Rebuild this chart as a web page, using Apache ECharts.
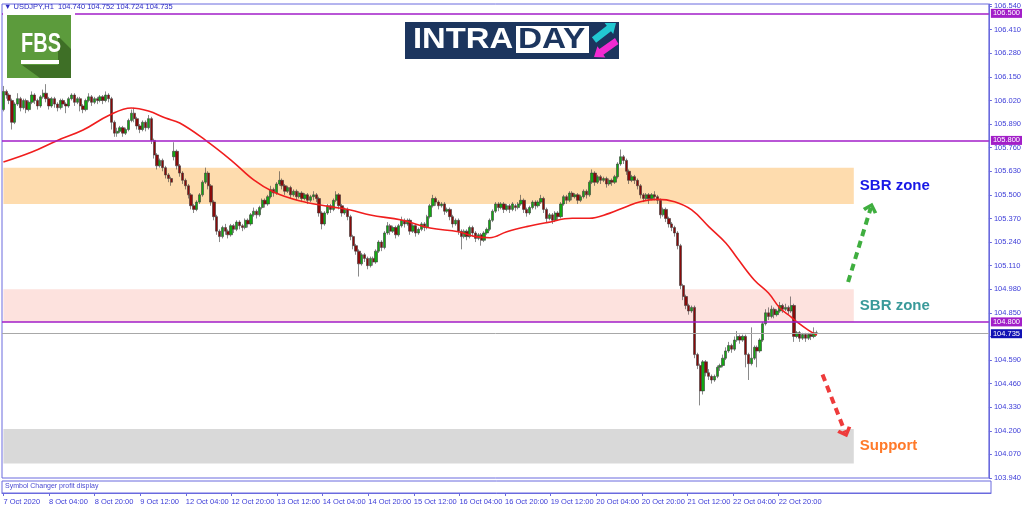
<!DOCTYPE html>
<html>
<head>
<meta charset="utf-8">
<script src="https://cdn.jsdelivr.net/npm/echarts@6/dist/echarts.min.js"></script>
<style>
html,body{margin:0;padding:0;background:#fff;}
#chart{width:1024px;height:511px;}
</style>
</head>
<body>
<div id="chart"></div>
<script>
// ---------------- DATA ----------------
const symbolName = 'USDJPY,H1';
const sessions = [['7 Oct',12,23],['8 Oct',0,23],['9 Oct',0,23],['12 Oct',0,23],['13 Oct',0,23],['14 Oct',0,23],['15 Oct',0,23],['16 Oct',0,23],['19 Oct',0,23],['20 Oct',0,23],['21 Oct',0,23],['22 Oct',0,23],['23 Oct',0,10]];
const xTickLabels = ['7 Oct 2020','8 Oct 04:00','8 Oct 20:00','9 Oct 12:00','12 Oct 04:00','12 Oct 20:00','13 Oct 12:00','14 Oct 04:00','14 Oct 20:00','15 Oct 12:00','16 Oct 04:00','16 Oct 20:00','19 Oct 12:00','20 Oct 04:00','20 Oct 20:00','21 Oct 12:00','22 Oct 04:00','22 Oct 20:00'];
const emptyBarsRight = 60;
const yMin = 103.94, yStep = 0.13, yMax = 106.5516;

// candles: [open, close, low, high]
const candles = [
[105.97,106.07,105.96,106.10],[106.07,106.05,106.03,106.08],[106.05,106.02,106.00,106.06],[106.02,105.90,105.86,106.03],[105.90,106.00,105.89,106.01],
[106.00,106.03,105.99,106.06],[106.03,105.98,105.96,106.04],[105.98,106.02,105.97,106.03],[106.02,105.97,105.95,106.03],[105.97,106.01,105.96,106.02],
[106.01,106.05,106.00,106.07],[106.05,106.02,106.00,106.06],[106.02,105.99,105.97,106.03],[105.99,106.04,105.98,106.05],[106.04,106.06,106.03,106.08],
[106.06,106.03,106.01,106.11],[106.03,105.99,105.97,106.04],[105.99,106.03,105.98,106.04],[106.03,106.00,105.98,106.04],[106.00,105.98,105.96,106.01],
[105.98,106.02,105.97,106.03],[106.02,106.00,105.98,106.03],[106.00,105.99,105.95,106.01],[105.99,106.03,105.98,106.04],[106.03,106.05,106.02,106.06],
[106.05,106.01,105.99,106.06],[106.01,106.03,106.00,106.04],[106.03,105.99,105.96,106.04],[105.99,105.97,105.95,106.00],[105.97,106.02,105.96,106.03],
[106.02,106.04,106.01,106.06],[106.04,106.01,105.99,106.05],[106.01,106.03,106.00,106.04],[106.03,106.02,106.00,106.04],[106.02,106.04,106.01,106.05],
[106.04,106.02,106.00,106.05],[106.02,106.05,106.01,106.07],[106.05,106.03,106.01,106.06],[106.03,105.90,105.86,106.04],[105.90,105.84,105.82,105.91],
[105.84,105.85,105.82,105.87],[105.85,105.87,105.84,105.88],[105.87,105.84,105.82,105.88],[105.84,105.86,105.83,105.87],[105.86,105.91,105.85,105.92],
[105.91,105.95,105.90,105.97],[105.95,105.92,105.90,105.98],[105.92,105.88,105.86,105.93],[105.88,105.86,105.84,105.89],[105.86,105.90,105.85,105.91],
[105.90,105.87,105.85,105.91],[105.87,105.92,105.86,105.94],[105.92,105.80,105.78,105.93],[105.80,105.72,105.70,105.81],[105.72,105.66,105.64,105.73],
[105.66,105.69,105.65,105.70],[105.69,105.65,105.63,105.70],[105.65,105.61,105.59,105.66],[105.61,105.59,105.57,105.62],[105.59,105.57,105.55,105.60],
[105.71,105.74,105.69,105.79],[105.74,105.66,105.64,105.75],[105.66,105.62,105.60,105.67],[105.62,105.58,105.56,105.63],[105.58,105.55,105.53,105.59],
[105.55,105.50,105.48,105.56],[105.50,105.44,105.42,105.51],[105.44,105.42,105.40,105.45],[105.42,105.46,105.41,105.47],[105.46,105.50,105.45,105.51],
[105.50,105.57,105.49,105.58],[105.57,105.62,105.56,105.65],[105.62,105.55,105.53,105.63],[105.55,105.46,105.44,105.56],[105.46,105.38,105.36,105.47],
[105.38,105.30,105.28,105.39],[105.30,105.27,105.24,105.31],[105.27,105.32,105.26,105.33],[105.32,105.30,105.28,105.34],[105.30,105.28,105.26,105.31],
[105.28,105.33,105.27,105.34],[105.33,105.31,105.29,105.34],[105.31,105.35,105.30,105.36],[105.35,105.33,105.31,105.36],[105.33,105.32,105.30,105.34],
[105.32,105.36,105.31,105.37],[105.36,105.34,105.32,105.37],[105.34,105.39,105.33,105.40],[105.39,105.41,105.38,105.43],[105.41,105.39,105.37,105.42],
[105.39,105.43,105.38,105.44],[105.43,105.47,105.42,105.48],[105.47,105.45,105.43,105.48],[105.45,105.49,105.44,105.50],[105.49,105.53,105.48,105.55],
[105.53,105.51,105.49,105.54],[105.51,105.56,105.50,105.57],[105.56,105.58,105.55,105.63],[105.58,105.55,105.53,105.59],[105.55,105.52,105.50,105.56],
[105.52,105.54,105.51,105.55],[105.54,105.50,105.48,105.55],[105.50,105.52,105.49,105.53],[105.52,105.49,105.47,105.53],[105.49,105.51,105.48,105.52],
[105.51,105.48,105.46,105.52],[105.48,105.50,105.47,105.51],[105.50,105.47,105.45,105.51],[105.47,105.49,105.46,105.50],[105.49,105.50,105.47,105.52],
[105.50,105.48,105.46,105.51],[105.48,105.40,105.38,105.49],[105.40,105.34,105.31,105.41],[105.34,105.40,105.33,105.41],[105.40,105.44,105.39,105.45],
[105.44,105.42,105.40,105.45],[105.42,105.47,105.41,105.48],[105.47,105.50,105.46,105.52],[105.50,105.44,105.42,105.51],[105.44,105.40,105.38,105.45],
[105.40,105.42,105.39,105.43],[105.42,105.38,105.36,105.43],[105.38,105.27,105.25,105.39],[105.27,105.22,105.20,105.28],[105.22,105.19,105.17,105.23],
[105.19,105.12,105.05,105.20],[105.12,105.17,105.11,105.18],[105.17,105.15,105.13,105.18],[105.15,105.11,105.09,105.16],[105.11,105.15,105.10,105.16],
[105.15,105.13,105.11,105.16],[105.13,105.19,105.12,105.20],[105.19,105.24,105.18,105.25],[105.24,105.21,105.19,105.25],[105.21,105.29,105.20,105.30],
[105.29,105.33,105.28,105.35],[105.33,105.30,105.28,105.34],[105.30,105.32,105.29,105.33],[105.32,105.28,105.26,105.33],[105.28,105.33,105.27,105.34],
[105.33,105.36,105.32,105.38],[105.36,105.34,105.32,105.37],[105.34,105.36,105.33,105.37],[105.36,105.30,105.28,105.37],[105.30,105.33,105.29,105.34],
[105.33,105.29,105.27,105.34],[105.29,105.31,105.28,105.32],[105.31,105.34,105.30,105.35],[105.34,105.32,105.30,105.35],[105.32,105.38,105.31,105.39],
[105.38,105.44,105.37,105.45],[105.44,105.48,105.43,105.50],[105.48,105.46,105.44,105.49],[105.46,105.44,105.42,105.47],[105.44,105.45,105.43,105.46],
[105.45,105.41,105.39,105.46],[105.41,105.42,105.40,105.43],[105.42,105.38,105.36,105.43],[105.38,105.34,105.32,105.39],[105.34,105.36,105.33,105.37],
[105.36,105.30,105.28,105.37],[105.30,105.27,105.20,105.31],[105.27,105.30,105.26,105.31],[105.30,105.27,105.25,105.31],[105.27,105.32,105.26,105.33],
[105.32,105.29,105.27,105.33],[105.29,105.26,105.24,105.30],[105.26,105.28,105.25,105.29],[105.28,105.25,105.22,105.29],[105.25,105.29,105.24,105.30],
[105.29,105.31,105.28,105.32],[105.31,105.36,105.30,105.37],[105.36,105.41,105.35,105.42],[105.41,105.45,105.40,105.46],[105.45,105.43,105.41,105.46],
[105.43,105.45,105.42,105.46],[105.45,105.42,105.40,105.46],[105.42,105.44,105.41,105.45],[105.44,105.42,105.40,105.45],[105.42,105.45,105.41,105.46],
[105.44,105.43,105.41,105.45],[105.43,105.45,105.42,105.46],[105.45,105.47,105.44,105.50],[105.47,105.42,105.40,105.48],[105.42,105.40,105.38,105.43],
[105.40,105.43,105.39,105.44],[105.43,105.46,105.42,105.47],[105.46,105.44,105.42,105.47],[105.44,105.46,105.43,105.47],[105.46,105.48,105.45,105.50],
[105.48,105.42,105.40,105.49],[105.42,105.37,105.35,105.43],[105.37,105.39,105.36,105.40],[105.39,105.36,105.34,105.40],[105.36,105.40,105.35,105.41],
[105.40,105.38,105.36,105.41],[105.38,105.45,105.37,105.46],[105.45,105.49,105.44,105.50],[105.49,105.47,105.45,105.50],[105.47,105.51,105.46,105.52],
[105.51,105.49,105.47,105.52],[105.49,105.50,105.48,105.51],[105.50,105.47,105.45,105.51],[105.47,105.49,105.46,105.50],[105.49,105.52,105.48,105.53],
[105.52,105.50,105.48,105.53],[105.50,105.57,105.49,105.58],[105.57,105.62,105.56,105.64],[105.62,105.57,105.55,105.63],[105.57,105.60,105.56,105.61],
[105.60,105.58,105.56,105.61],[105.58,105.59,105.57,105.60],[105.59,105.56,105.54,105.60],[105.56,105.58,105.55,105.59],[105.58,105.57,105.55,105.59],
[105.57,105.60,105.56,105.61],[105.60,105.67,105.59,105.68],[105.67,105.71,105.66,105.75],[105.71,105.69,105.67,105.72],[105.69,105.63,105.61,105.70],
[105.63,105.58,105.56,105.64],[105.58,105.60,105.57,105.61],[105.60,105.58,105.56,105.61],[105.58,105.55,105.53,105.59],[105.55,105.50,105.48,105.56],
[105.50,105.48,105.46,105.51],[105.48,105.50,105.47,105.51],[105.50,105.48,105.45,105.51],[105.48,105.50,105.47,105.51],[105.50,105.49,105.47,105.52],
[105.49,105.47,105.45,105.50],[105.47,105.39,105.37,105.48],[105.39,105.42,105.38,105.43],[105.42,105.37,105.35,105.43],[105.37,105.34,105.32,105.38],
[105.34,105.32,105.30,105.35],[105.32,105.29,105.27,105.33],[105.29,105.22,105.20,105.30],[105.22,105.00,104.98,105.23],[105.00,104.94,104.92,105.01],
[104.94,104.89,104.87,104.95],[104.89,104.86,104.84,104.90],[104.86,104.88,104.85,104.89],[104.88,104.62,104.60,104.89],[104.62,104.56,104.54,104.63],
[104.56,104.42,104.34,104.57],[104.42,104.58,104.40,104.59],[104.58,104.52,104.50,104.59],[104.52,104.50,104.48,104.54],[104.50,104.48,104.46,104.51],
[104.48,104.50,104.47,104.51],[104.50,104.55,104.49,104.56],[104.55,104.56,104.53,104.57],[104.56,104.60,104.55,104.62],[104.60,104.64,104.59,104.66],
[104.64,104.67,104.63,104.69],[104.67,104.65,104.63,104.68],[104.65,104.70,104.64,104.72],[104.70,104.72,104.69,104.75],[104.72,104.70,104.68,104.73],
[104.70,104.72,104.69,104.73],[104.72,104.62,104.55,104.73],[104.62,104.57,104.48,104.63],[104.57,104.60,104.56,104.77],[104.60,104.66,104.59,104.67],
[104.66,104.64,104.55,104.67],[104.64,104.70,104.63,104.71],[104.70,104.79,104.69,104.80],[104.79,104.85,104.78,104.87],[104.85,104.83,104.81,104.88],
[104.83,104.87,104.82,104.89],[104.87,104.84,104.82,104.88],[104.84,104.86,104.83,104.87],[104.86,104.89,104.85,104.91],[104.89,104.87,104.85,104.90],
[104.87,104.88,104.86,104.90],[104.88,104.86,104.84,104.89],[104.86,104.89,104.85,104.94],[104.89,104.72,104.69,104.90],[104.72,104.74,104.71,104.75],
[104.74,104.71,104.69,104.75],[104.71,104.73,104.70,104.74],[104.73,104.71,104.69,104.74],[104.71,104.73,104.70,104.74],[104.73,104.72,104.70,104.74],
[104.72,104.74,104.71,104.77],[104.740,104.735,104.724,104.752]
];

// moving average line: [bar index, price]
const maPoints = [[0,105.681],[10,105.736],[19,105.80],[28,105.857],[37,105.937],[45,105.979],[51,105.962],[57,105.923],[62,105.896],[71,105.802],[80,105.692],[88,105.582],[95,105.516],[104,105.468],[115,105.435],[122,105.417],[129,105.389],[140,105.361],[150,105.317],[160,105.297],[166,105.27],[171,105.264],[177,105.297],[184,105.325],[191,105.347],[200,105.371],[206,105.371],[213,105.398],[219,105.435],[224,105.462],[230,105.475],[236,105.462],[242,105.417],[248,105.325],[254,105.235],[258,105.152],[264,105.031],[269,104.959],[273,104.877],[277,104.827],[279,104.80],[283,104.755],[286,104.728]];

// horizontal levels
const purpleLevels = [106.5, 105.8, 104.8];
const currentPrice = 104.735;
// zones: [top, bottom, label]
const zoneOrange = [105.65, 105.45, 'SBR zone'];
const zonePink = [104.98, 104.80, 'SBR zone'];
const zoneGrey = [104.21, 104.02, 'Support'];
const zoneEndBar = 299;
// projection arrows: [[bar, price], [bar, price]]
const arrowUp = [[297, 105.02], [305, 105.43]];
const arrowDown = [[288, 104.51], [296, 104.19]];

// ---------------- BUILD ----------------
const categories = [];
sessions.forEach(s => { for (let h = s[1]; h <= s[2]; h++) categories.push(s[0] + ' ' + String(h).padStart(2,'0') + ':00'); });
const nBars = categories.length;
for (let i = 0; i < emptyBarsRight; i++) categories.push('pad' + i);

const FONT = 'Liberation Sans, Arial, sans-serif';
const AXIS_BLUE = '#6a6ade';
const TEXT_BLUE = '#3c3cd8';
const PURPLE = '#a21ec8';

const tickShow = idx => idx % 16 === 0 && idx < nBars;
const last = candles[candles.length - 1];
const header = '\u25BC ' + symbolName + '  ' + [last[0], last[3], last[2], last[1]].map(v => v.toFixed(3)).join(' ');

function levelLine(v, lineColor, bg, width) {
  return {
    yAxis: v,
    lineStyle: { color: lineColor, width: width, type: 'solid' },
    label: {
      show: true, position: 'end', distance: 2,
      formatter: p => Number(p.value).toFixed(3),
      color: '#fff', fontSize: 7.5, fontFamily: FONT,
      backgroundColor: bg, padding: [1, 2, 0, 2]
    }
  };
}
function zone(z, fill, textColor) {
  return [
    { xAxis: 0, yAxis: z[0], name: z[2], itemStyle: { color: fill },
      label: { show: true, position: 'right', distance: 6, formatter: '{b}', color: textColor,
               fontSize: 15, fontWeight: 'bold', fontFamily: FONT } },
    { xAxis: zoneEndBar, yAxis: z[1] }
  ];
}
const chevron = 'path://M0,9 L9,0 L18,9 L14.5,11.5 L9,5.5 L3.5,11.5 Z';

const option = {
  animation: false,
  backgroundColor: '#ffffff',
  title: [
    { text: header, left: 4, top: 3, padding: 0,
      textStyle: { fontSize: 7.5, color: '#2d2dc4', fontWeight: 'normal', fontFamily: FONT } },
    { text: 'Symbol Changer profit display', left: 5, top: 483, padding: 0,
      textStyle: { fontSize: 7, color: '#4a4ad2', fontWeight: 'normal', fontFamily: FONT } }
  ],
  grid: [
    { left: 2, right: 33, top: 4, bottom: 33, show: true, borderColor: AXIS_BLUE, borderWidth: 1 },
    { left: 2, right: 33, top: 481, bottom: 18, show: true, borderColor: AXIS_BLUE, borderWidth: 1 }
  ],
  xAxis: [
    { type: 'category', gridIndex: 0, data: categories, boundaryGap: true, show: false },
    { type: 'category', gridIndex: 1, data: categories, boundaryGap: true,
      axisLine: { show: true, lineStyle: { color: AXIS_BLUE } },
      axisTick: { show: true, alignWithLabel: true, interval: tickShow, length: 3, lineStyle: { color: AXIS_BLUE } },
      axisLabel: { show: true, interval: tickShow, align: 'left', margin: 5,
        formatter: (v, idx) => (idx % 16 === 0 && idx < nBars) ? xTickLabels[idx / 16] : '',
        fontSize: 7.5, color: TEXT_BLUE, fontFamily: FONT },
      splitLine: { show: false } }
  ],
  yAxis: [
    { type: 'value', gridIndex: 0, position: 'right', min: yMin, max: yMax, interval: yStep, scale: true,
      splitLine: { show: false },
      axisLine: { show: true, lineStyle: { color: AXIS_BLUE } },
      axisTick: { show: true, length: 3, lineStyle: { color: AXIS_BLUE } },
      axisLabel: { margin: 5, fontSize: 7.5, color: TEXT_BLUE, fontFamily: FONT,
        formatter: v => { const k = (v - yMin) / yStep; return Math.abs(k - Math.round(k)) < 0.02 ? v.toFixed(3) : ''; } } },
    { type: 'value', gridIndex: 1, show: false }
  ],
  series: [
    { type: 'candlestick', xAxisIndex: 0, yAxisIndex: 0, data: candles, barWidth: 2.8, z: 2,
      itemStyle: { color: '#12a812', color0: '#8a0a0a', borderColor: '#3a3a3a', borderColor0: '#3a3a3a', borderWidth: 0.6 },
      markArea: { silent: true, data: [
        zone(zoneOrange, '#fedcae', '#1818e6'),
        zone(zonePink, '#fde2de', '#3a9a9a'),
        zone(zoneGrey, '#d9d9d9', '#ff7a2a')
      ] },
      markLine: { silent: true, symbol: ['none', 'none'], precision: 3, data:
        purpleLevels.map(v => levelLine(v, PURPLE, PURPLE, 1.5))
          .concat([levelLine(currentPrice, '#a8a8a8', '#1212b4', 1)]) }
    },
    { type: 'line', xAxisIndex: 0, yAxisIndex: 0, data: maPoints, smooth: 0.4, showSymbol: false, z: 3,
      lineStyle: { color: '#f01e1e', width: 1.6 },
      markLine: { silent: true, symbol: ['none', chevron], symbolSize: [15, 10], label: { show: false },
        data: [
          [{ coord: arrowUp[0], lineStyle: { color: '#3fae3f', type: [7, 5], width: 4 } }, { coord: arrowUp[1] }],
          [{ coord: arrowDown[0], lineStyle: { color: '#ee3b3b', type: [7, 5], width: 4 } }, { coord: arrowDown[1] }]
        ] }
    },
    { type: 'line', xAxisIndex: 1, yAxisIndex: 1, data: [] }
  ],
  graphic: [
    { type: 'rect', z: 100, shape: { x: 3, y: 11, width: 72, height: 70 }, style: { fill: '#ffffff' } },
    // FBS logo
    { type: 'rect', z: 101, shape: { x: 7, y: 15, width: 64, height: 63 }, style: { fill: '#5c9b3c' } },
    { type: 'polygon', z: 102, shape: { points: [[58,36],[71,49],[71,78],[40,78],[22,65],[58,65]] }, style: { fill: '#3e6f26' } },
    { type: 'text', z: 103, x: 21, y: 45, scaleX: 0.74,
      style: { text: 'FBS', fill: '#ffffff', font: 'bold 27px ' + FONT, textAlign: 'left', textVerticalAlign: 'middle' } },
    { type: 'rect', z: 103, shape: { x: 21, y: 60, width: 38, height: 4 }, style: { fill: '#ffffff' } },
    // INTRADAY logo
    { type: 'rect', z: 101, shape: { x: 405, y: 22, width: 214, height: 37 }, style: { fill: '#1c355e' } },
    { type: 'rect', z: 102, shape: { x: 516, y: 26, width: 73, height: 27 }, style: { fill: '#ffffff' } },
    { type: 'text', z: 103, x: 413, y: 40, scaleX: 1.13,
      style: { text: 'INTRA', fill: '#ffffff', font: 'bold 29px ' + FONT, textAlign: 'left', textVerticalAlign: 'middle' } },
    { type: 'text', z: 103, x: 518, y: 40, scaleX: 1.15,
      style: { text: 'DAY', fill: '#1c355e', font: 'bold 29px ' + FONT, textAlign: 'left', textVerticalAlign: 'middle' } },
    { type: 'polygon', z: 103, shape: { points: [[616,23],[613.2,34],[611,31.3],[596.1,42.8],[591.9,37.2],[606.8,25.7],[604.6,23]] }, style: { fill: '#22c8d2' } },
    { type: 'polygon', z: 104, shape: { points: [[594,57],[597.4,46.2],[599.4,49],[615,38.1],[618.5,43.9],[603.4,54.8],[605.4,57.6]] }, style: { fill: '#f22ad2' } }
  ]
};

const chart = echarts.init(document.getElementById('chart'), null, { renderer: 'canvas' });
chart.setOption(option);
</script>
</body>
</html>
